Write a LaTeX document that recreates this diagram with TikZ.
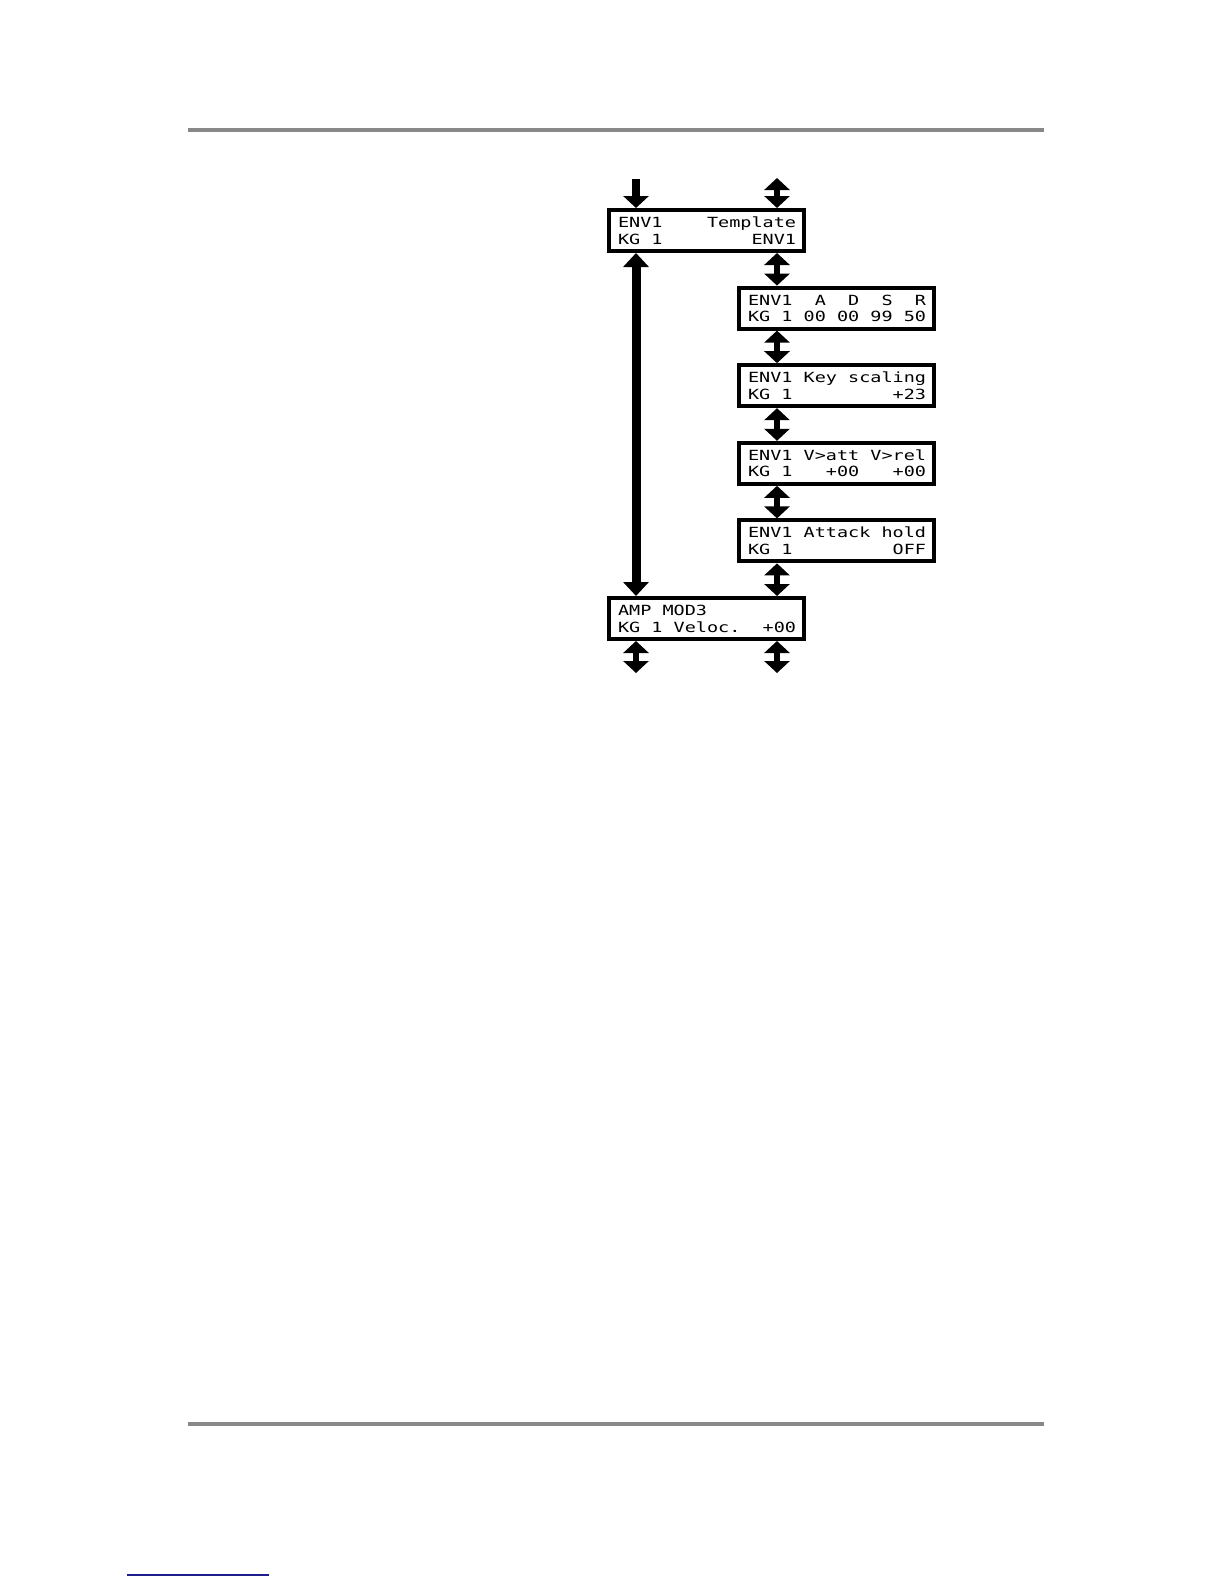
\documentclass[tikz,border=0pt]{standalone}
\usepackage{fontspec}
\newfontfamily\lcdfont[FakeStretch=1.32]{DejaVu Sans Mono}
\usetikzlibrary{arrows.meta,calc}
\definecolor{rulegrey}{RGB}{136,136,136}
\definecolor{linkblue}{RGB}{30,30,140}
\begin{document}
\begin{tikzpicture}[x=0.5pt,y=-0.5pt,
  lcdbox/.style={draw, line width=2pt, rectangle, inner sep=0pt, outer sep=1pt,
    minimum width=97.5pt, minimum height=20.5pt, anchor=north west},
  lcdtxt/.style={inner sep=0pt, outer sep=0pt, anchor=base west,
    font=\lcdfont\fontsize{7pt}{8pt}\selectfont},
  onearrow/.style={line width=4pt, -{Triangle[width=12.5pt,length=6pt]}},
  twoarrow/.style={line width=3pt, {Triangle[width=12.5pt,length=6pt]}-{Triangle[width=12.5pt,length=6pt]}},
  longarrow/.style={line width=4.5pt, {Triangle[width=12.5pt,length=7pt]}-{Triangle[width=12.5pt,length=7pt]}},
  pagerule/.style={draw=rulegrey, line width=2pt}]
\useasboundingbox (0,0) rectangle (1224,1584);
% page rules
\coordinate (rtl) at (188,130);
\coordinate (rtr) at (1044,130);
\coordinate (rbl) at (188,1424);
\coordinate (rbr) at (1044,1424);
\coordinate (lkl) at (127,1575);
\coordinate (lkr) at (269,1575);
\draw[pagerule] (rtl) -- (rtr);
\draw[pagerule] (rbl) -- (rbr);
\draw[draw=linkblue, line width=0.8pt] (lkl) -- (lkr);
% columns
\coordinate (colL) at (636,0);
\coordinate (colR) at (777,0);
% boxes
\node[lcdbox] (b1) at (607,208) {};
\node[lcdbox] (b2) at (737,285.6) {};
\node[lcdbox] (b3) at (737,363.2) {};
\node[lcdbox] (b4) at (737,440.8) {};
\node[lcdbox] (b5) at (737,518.4) {};
\node[lcdbox] (b6) at (607,596) {};
% texts
\node[lcdtxt] (t1a) at ($(b1.north west)+(11,19.5)$) {ENV1~~~~Template};
\node[lcdtxt] (t1b) at ($(b1.north west)+(11,36)$) {KG~1~~~~~~~~ENV1};
\node[lcdtxt] (t2a) at ($(b2.north west)+(11,19.5)$) {ENV1~~A~~D~~S~~R};
\node[lcdtxt] (t2b) at ($(b2.north west)+(11,36)$) {KG~1~00~00~99~50};
\node[lcdtxt] (t3a) at ($(b3.north west)+(11,19.5)$) {ENV1~Key~scaling};
\node[lcdtxt] (t3b) at ($(b3.north west)+(11,36)$) {KG~1~~~~~~~~~+23};
\node[lcdtxt] (t4a) at ($(b4.north west)+(11,19.5)$) {ENV1~V>att~V>rel};
\node[lcdtxt] (t4b) at ($(b4.north west)+(11,36)$) {KG~1~~~+00~~~+00};
\node[lcdtxt] (t5a) at ($(b5.north west)+(11,19.5)$) {ENV1~Attack~hold};
\node[lcdtxt] (t5b) at ($(b5.north west)+(11,36)$) {KG~1~~~~~~~~~OFF};
\node[lcdtxt] (t6a) at ($(b6.north west)+(11,19.5)$) {AMP~MOD3};
\node[lcdtxt] (t6b) at ($(b6.north west)+(11,36)$) {KG~1~Veloc.~~+00};
% free ends
\coordinate (topL) at (636,179);
\coordinate (topR) at (777,178);
\coordinate (botL) at (636,673);
\coordinate (botR) at (777,673);
% arrows
\draw[onearrow] (topL) -- (b1.north -| colL);
\draw[twoarrow] (topR) -- (b1.north -| colR);
\draw[twoarrow] (b1.south -| colR) -- (b2.north -| colR);
\draw[twoarrow] (b2.south -| colR) -- (b3.north -| colR);
\draw[twoarrow] (b3.south -| colR) -- (b4.north -| colR);
\draw[twoarrow] (b4.south -| colR) -- (b5.north -| colR);
\draw[twoarrow] (b5.south -| colR) -- (b6.north -| colR);
\draw[longarrow] (b1.south -| colL) -- (b6.north -| colL);
\draw[twoarrow] (b6.south -| colL) -- (botL);
\draw[twoarrow] (b6.south -| colR) -- (botR);
\end{tikzpicture}
\end{document}
